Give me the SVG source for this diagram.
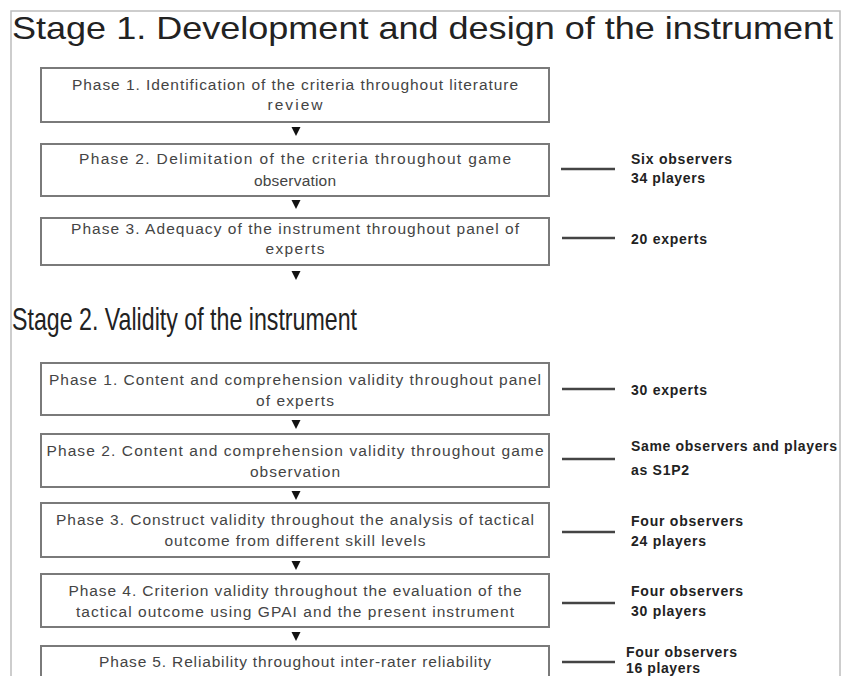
<svg xmlns="http://www.w3.org/2000/svg" width="843" height="676" viewBox="0 0 843 676">
<style>
.frame{fill:none;stroke:#bdbdbd;stroke-width:1.5}
.box{fill:#fff;stroke:#7a7a7a;stroke-width:2}
.bt{font-family:"Liberation Sans",Arial,sans-serif;font-size:15.5px;fill:#444;text-anchor:middle}
.title{font-family:"Liberation Sans",Arial,sans-serif;font-size:32px;fill:#222}
.lab{font-family:"Liberation Sans",Arial,sans-serif;font-size:14px;font-weight:bold;fill:#222}
.conn{stroke:#444;stroke-width:2.5}
.arr{fill:#111}
</style>
<rect class="frame" x="11" y="11" width="829" height="700"/>
<text class="title" x="12" y="39" textLength="821" lengthAdjust="spacingAndGlyphs">Stage 1. Development and design of the instrument</text>
<text class="title" x="12" y="330" textLength="345" lengthAdjust="spacingAndGlyphs">Stage 2. Validity of the instrument</text>

<g id="s1p1">
<rect class="box" x="41" y="68" width="508" height="54"/>
<text class="bt" x="295" y="90" textLength="446" lengthAdjust="spacing">Phase 1. Identification of the criteria throughout literature</text>
<text class="bt" x="295" y="110" textLength="55" lengthAdjust="spacing">review</text>
</g>
<g id="s1p2">
<rect class="box" x="41" y="144" width="508" height="52"/>
<text class="bt" x="295" y="164" textLength="432" lengthAdjust="spacing">Phase 2. Delimitation of the criteria throughout game</text>
<text class="bt" x="295" y="186" textLength="82" lengthAdjust="spacing">observation</text>
</g>
<g id="s1p3">
<rect class="box" x="41" y="218" width="508" height="47"/>
<text class="bt" x="295" y="234" textLength="448" lengthAdjust="spacing">Phase 3. Adequacy of the instrument throughout panel of</text>
<text class="bt" x="295" y="254" textLength="59" lengthAdjust="spacing">experts</text>
</g>

<g id="s2p1">
<rect class="box" x="41" y="363" width="508" height="52"/>
<text class="bt" x="295" y="385" textLength="492" lengthAdjust="spacing">Phase 1. Content and comprehension validity throughout panel</text>
<text class="bt" x="295" y="406" textLength="78" lengthAdjust="spacing">of experts</text>
</g>
<g id="s2p2">
<rect class="box" x="41" y="434" width="508" height="53"/>
<text class="bt" x="295" y="456" textLength="497" lengthAdjust="spacing">Phase 2. Content and comprehension validity throughout game</text>
<text class="bt" x="295" y="477" textLength="90" lengthAdjust="spacing">observation</text>
</g>
<g id="s2p3">
<rect class="box" x="41" y="503" width="508" height="54"/>
<text class="bt" x="295" y="525" textLength="478" lengthAdjust="spacing">Phase 3. Construct validity throughout the analysis of tactical</text>
<text class="bt" x="295" y="546" textLength="261" lengthAdjust="spacing">outcome from different skill levels</text>
</g>
<g id="s2p4">
<rect class="box" x="41" y="574" width="508" height="53"/>
<text class="bt" x="295" y="596" textLength="453" lengthAdjust="spacing">Phase 4. Criterion validity throughout the evaluation of the</text>
<text class="bt" x="295" y="617" textLength="438" lengthAdjust="spacing">tactical outcome using GPAI and the present instrument</text>
</g>
<g id="s2p5">
<rect class="box" x="41" y="646" width="508" height="60"/>
<text class="bt" x="295" y="667" textLength="392" lengthAdjust="spacing">Phase 5. Reliability throughout inter-rater reliability</text>
</g>

<g id="connectors">
<polygon class="arr" points="291.5,127 300.5,127 296,136"/>
<polygon class="arr" points="291.5,200 300.5,200 296,209"/>
<polygon class="arr" points="291.5,271 300.5,271 296,280"/>
<polygon class="arr" points="291.5,420 300.5,420 296,429"/>
<polygon class="arr" points="291.5,491 300.5,491 296,500"/>
<polygon class="arr" points="291.5,561 300.5,561 296,570"/>
<polygon class="arr" points="291.5,632 300.5,632 296,641"/>
<line class="conn" x1="561" y1="169" x2="615" y2="169"/>
<line class="conn" x1="562" y1="238" x2="615" y2="238"/>
<line class="conn" x1="562" y1="389" x2="615" y2="389"/>
<line class="conn" x1="562" y1="459" x2="615" y2="459"/>
<line class="conn" x1="562" y1="532" x2="615" y2="532"/>
<line class="conn" x1="562" y1="603" x2="615" y2="603"/>
<line class="conn" x1="562" y1="662" x2="615" y2="662"/>
</g>

<g id="labels">
<text class="lab" x="631" y="164" textLength="101" lengthAdjust="spacing">Six observers</text>
<text class="lab" x="631" y="183" textLength="74" lengthAdjust="spacing">34 players</text>
<text class="lab" x="631" y="244" textLength="76" lengthAdjust="spacing">20 experts</text>
<text class="lab" x="631" y="395" textLength="76" lengthAdjust="spacing">30 experts</text>
<text class="lab" x="631" y="451" textLength="206" lengthAdjust="spacing">Same observers and players</text>
<text class="lab" x="631" y="475" textLength="58" lengthAdjust="spacing">as S1P2</text>
<text class="lab" x="631" y="526" textLength="112" lengthAdjust="spacing">Four observers</text>
<text class="lab" x="631" y="546" textLength="75" lengthAdjust="spacing">24 players</text>
<text class="lab" x="631" y="596" textLength="112" lengthAdjust="spacing">Four observers</text>
<text class="lab" x="631" y="616" textLength="75" lengthAdjust="spacing">30 players</text>
<text class="lab" x="626" y="657" textLength="111" lengthAdjust="spacing">Four observers</text>
<text class="lab" x="626" y="673" textLength="74" lengthAdjust="spacing">16 players</text>
</g>
</svg>
